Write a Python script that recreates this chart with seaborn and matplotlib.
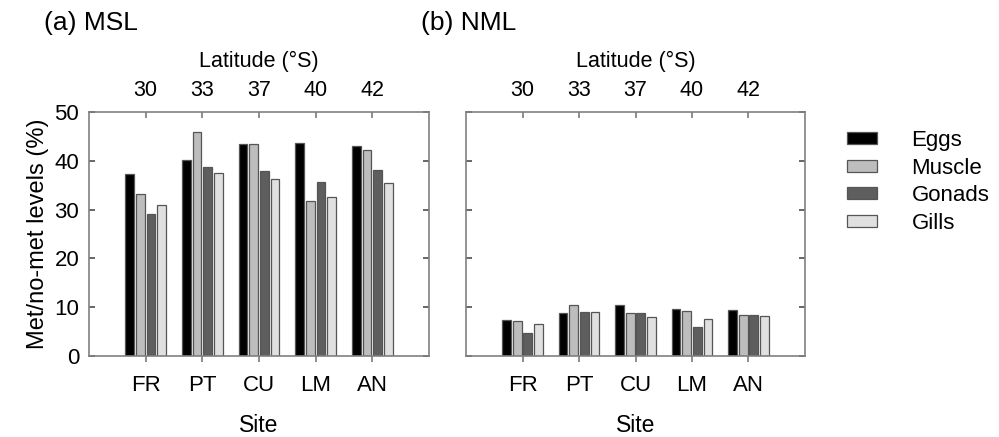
import numpy as np
import pandas as pd
import matplotlib
matplotlib.use("Agg")
import matplotlib.pyplot as plt
import seaborn as sns
from matplotlib.patches import Patch

sites = ["FR", "PT", "CU", "LM", "AN"]
latitudes = ["30", "33", "37", "40", "42"]
tissues = ["Eggs", "Muscle", "Gonads", "Gills"]
colors = ["#000000", "#bdbdbd", "#5e5e5e", "#e0e0e0"]

msl_eggs = [37.3, 40.1, 43.5, 43.6, 43.0]
msl_muscle = [33.2, 45.8, 43.5, 31.8, 42.3]
msl_gonads = [29.0, 38.8, 38.0, 35.7, 38.2]
msl_gills = [30.9, 37.6, 36.3, 32.5, 35.4]

nml_eggs = [7.45, 8.9, 10.5, 9.7, 9.5]
nml_muscle = [7.2, 10.4, 8.75, 9.2, 8.5]
nml_gonads = [4.65, 9.0, 8.75, 5.95, 8.3]
nml_gills = [6.5, 9.0, 7.9, 7.65, 8.15]


def long_df(series):
    rows = []
    for t, vals in zip(tissues, series):
        for s, v in zip(sites, vals):
            rows.append({"Site": s, "Tissue": t, "Value": v})
    return pd.DataFrame(rows)


df_msl = long_df([msl_eggs, msl_muscle, msl_gonads, msl_gills])
df_nml = long_df([nml_eggs, nml_muscle, nml_gonads, nml_gills])

sns.set_theme(style="white")
plt.rcParams["font.family"] = ["Liberation Sans", "DejaVu Sans"]
plt.rcParams["text.color"] = "black"
plt.rcParams["axes.labelcolor"] = "black"
plt.rcParams["xtick.labelcolor"] = "black"
plt.rcParams["ytick.labelcolor"] = "black"

W, H = 999, 437
fig = plt.figure(figsize=(W / 100, H / 100), dpi=100)

def axrect(x0, x1, y0, y1):
    return [x0 / W, 1 - y1 / H, (x1 - x0) / W, (y1 - y0) / H]

ax1 = fig.add_axes(axrect(89, 429, 112, 356))
ax2 = fig.add_axes(axrect(466, 805, 112, 356))

spine_col = "#808080"
for ax, df, title, tx in [(ax1, df_msl, "(a) MSL", 44), (ax2, df_nml, "(b) NML", 421)]:
    sns.barplot(data=df, x="Site", y="Value", hue="Tissue", order=sites,
                hue_order=tissues, palette=colors, width=0.75, gap=0.18,
                edgecolor="#555555", linewidth=0.9, legend=False, ax=ax)
    ax.set_xlim(-1, 5)
    ax.set_ylim(0, 50)
    ax.set_yticks([0, 10, 20, 30, 40, 50])
    for sp in ax.spines.values():
        sp.set_visible(True)
        sp.set_color(spine_col)
        sp.set_linewidth(1.2)
    ax.tick_params(axis="y", direction="in", left=True, right=True, length=4,
                   color="#555555", labelsize=16, pad=7, labelcolor="black")
    ax.tick_params(axis="x", direction="out", bottom=True, length=4,
                   color="#808080", labelsize=16, pad=10, labelcolor="black")
    ax.set_xlabel("Site", fontsize=16.5, labelpad=13, color="black")
    ax.set_ylabel("")
    sec = ax.secondary_xaxis("top")
    sec.set_xticks(range(len(sites)))
    sec.set_xticklabels(latitudes, fontsize=15.5)
    sec.tick_params(direction="in", length=4, color="#808080", pad=8, labelcolor="black")
    sec.spines["top"].set_visible(False)
    sec.set_xlabel("Latitude (°S)", fontsize=15.5, labelpad=9, color="black")
    fig.text(tx / W, 1 - 23 / H, title, fontsize=19, ha="left", va="center", color="black")

ax1.set_ylabel("Met/no-met levels (%)", fontsize=17, labelpad=4, color="black")
ax2.tick_params(axis="y", labelleft=False)

handles = [Patch(facecolor=c, edgecolor="#555555", linewidth=0.9) for c in colors]
leg = fig.legend(handles, tissues, loc="upper left", bbox_to_anchor=(827 / W, 1 - 110 / H),
                 frameon=False, fontsize=16, handlelength=1.35, handleheight=0.45,
                 handletextpad=1.55, labelspacing=0.3)
for t in leg.get_texts():
    t.set_color("black")

fig.savefig("out.png", dpi=100)
